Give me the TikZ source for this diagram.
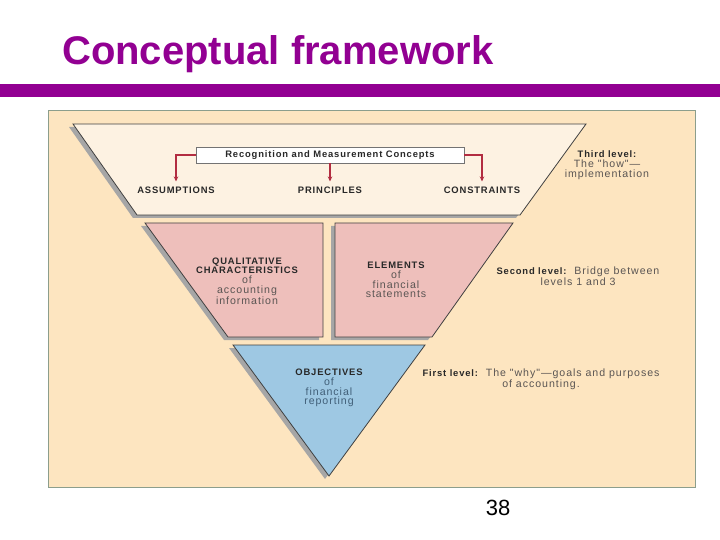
\documentclass[tikz,border=0pt]{standalone}
\usepackage{fontspec}
\setmainfont{Liberation Sans}
\newfontfamily\lblfont[LetterSpace=9]{Liberation Sans}
\usetikzlibrary{positioning, arrows.meta}

\definecolor{framepurple}{RGB}{146,0,146}
\definecolor{panelbeige}{RGB}{253,229,192}
\definecolor{panelline}{RGB}{140,158,140}
\definecolor{topcream}{RGB}{253,242,226}
\definecolor{midpink}{RGB}{238,191,187}
\definecolor{lowblue}{RGB}{158,200,227}
\definecolor{arrowred}{RGB}{178,45,65}
\definecolor{textdark}{RGB}{40,40,40}
\definecolor{textgray}{RGB}{90,85,83}
\definecolor{textblue}{RGB}{65,95,120}

\newcommand{\hd}[1]{{\fontsize{9.4}{9.8}\selectfont\bfseries\color{textdark}#1}}

\begin{document}
\begin{tikzpicture}[
    x=1pt, y=-1pt,
    every node/.style={font=\lblfont\fontsize{10.6}{9.8}\selectfont, text=textgray, inner sep=1pt},
    level/.style={draw=black!75, line width=0.8pt, line join=miter},
    shade/.style={fill=black!35, draw=none, shift={(-4,3)}},
    caps/.style={font=\lblfont\bfseries\fontsize{9.4}{9.8}\selectfont, text=textdark, inner ysep=5pt},
    conceptbox/.style={draw=black!55, fill=white, line width=0.8pt, minimum width=268pt, minimum height=16pt},
    note/.style={align=center},
    redarrow/.style={draw=arrowred, line width=1.1pt, -{Stealth[length=5pt, width=4.5pt]}}
]
\useasboundingbox (0,0) rectangle (720,540);
\fill[white] (0,0) rectangle (720,540);

% title and bar
\node (title) [anchor=base west, font=\rmfamily\bfseries\fontsize{40}{48}\selectfont, text=framepurple, inner sep=0pt] at (62,65) {Conceptual framework};
\fill[framepurple] (0,84) rectangle (720,97);

% panel
\draw[panelline, fill=panelbeige, line width=1pt] (48,111) rectangle (695,487);

% third level
\fill[shade] (73,124) -- (586,124) -- (520,215) -- (137,215) -- cycle;
\filldraw[level, fill=topcream] (73,124) -- (586,124) -- (520,215) -- (137,215) -- cycle;

% second level
\fill[shade] (145,223) -- (323,223) -- (323,337) -- (228,337) -- cycle;
\filldraw[level, fill=midpink] (145,223) -- (323,223) -- (323,337) -- (228,337) -- cycle;
\fill[shade] (335,223) -- (513,223) -- (432,337) -- (335,337) -- cycle;
\filldraw[level, fill=midpink] (335,223) -- (513,223) -- (432,337) -- (335,337) -- cycle;

% first level
\fill[shade] (233,345) -- (425,345) -- (329,476) -- cycle;
\filldraw[level, fill=lowblue] (233,345) -- (425,345) -- (329,476) -- cycle;

\node (rmc) [conceptbox, caps, inner ysep=1pt] at (330,155) {Recognition and Measurement Concepts};
\node (assump) [caps] at (176,190) {ASSUMPTIONS};
\node (princ) [caps] at (330,190) {PRINCIPLES};
\node (constr) [caps] at (482,190) {CONSTRAINTS};

\draw [redarrow] (rmc.west) -| (assump.north);
\draw [redarrow] (rmc.south) -- (princ.north);
\draw [redarrow] (rmc.east) -| (constr.north);

\node (qual) [note] at (247,281) {\hd{QUALITATIVE}\\\hd{CHARACTERISTICS}\\of\\accounting\\information};
\node (elem) [note] at (396,280) {\hd{ELEMENTS}\\of\\financial\\statements};
\node (obj) [note, text=textblue] at (329,388) {\hd{OBJECTIVES}\\of\\financial\\reporting};

\node (third) [note] at (607,165) {\hd{Third level:}\\The "how"\textemdash\\implementation};
\node (second) [note] at (578,276) {\hd{Second level:}\ \ Bridge between\\levels 1 and 3};
\node (first) [note] at (541,379) {\hd{First level:}\ \ The "why"\textemdash goals and purposes\\of accounting.};

\node (pagenum) [font=\rmfamily\fontsize{22}{26}\selectfont, text=black] at (498,508) {38};

\end{tikzpicture}
\end{document}
